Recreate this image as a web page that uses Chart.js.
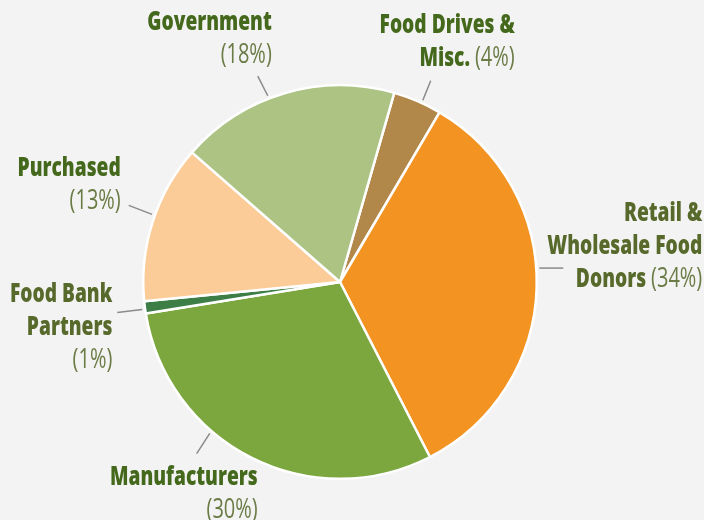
<!DOCTYPE html>
<html>
<head>
<meta charset="utf-8">
<script src="https://cdn.jsdelivr.net/npm/chart.js@4"></script>
<style>
  html, body { margin: 0; padding: 0; background: #f3f3f3; }
  #wrap { width: 704px; height: 520px; }
</style>
</head>
<body>
<div id="wrap"><canvas id="pieChart" width="704" height="520"></canvas></div>
<script>
// Data, clockwise from the slice just right of the top
const categories = ['Food Drives & Misc.', 'Retail & Wholesale Food Donors', 'Manufacturers',
                    'Food Bank Partners', 'Purchased', 'Government'];
const shares = [4, 34, 30, 1, 13, 18];
const sliceColors = ['#b2874a', '#f39322', '#7ba73e', '#3d7e47', '#fbcb98', '#acc384'];

// how each label is wrapped and where it sits relative to its leader line
const labelStyle = [
  { lines: ['Food Drives &', 'Misc.'], pctInline: true, off: 1.3, dir: -68, len: 21, dx: 84, dy: -48, color: '#45691c' },
  { lines: ['Retail &', 'Wholesale Food', 'Donors'], pctInline: true, off: -5.6, dir: 0, len: 24, dx: 139, dy: -47, color: '#586a2b' },
  { lines: ['Manufacturers'], pctInline: false, off: 13.9, dir: 123, len: 24, dx: 61, dy: 31, color: '#45691c' },
  { lines: ['Food Bank', 'Partners'], pctInline: false, off: -0.5, dir: 173, len: 25, dx: -5, dy: -11, color: '#586a2b' },
  { lines: ['Purchased'], pctInline: false, off: 2, dir: -159, len: 25, dx: -8, dy: -29, color: '#45691c' },
  { lines: ['Government'], pctInline: false, off: -4.8, dir: -117, len: 22, dx: 14, dy: -46, color: '#45691c' }
];

// no condensed face is available, so squeeze a normal one horizontally
const FONT = "'Open Sans', 'Noto Sans', sans-serif";
const LINE_H = 33;

function squeezedText(c, txt, xr, y, sx) {
  c.save();
  c.translate(xr, y);
  c.scale(sx, 1);
  c.fillText(txt, 0, 0);
  c.restore();
  return c.measureText(txt).width * sx;
}

const calloutPlugin = {
  id: 'callouts',
  afterDatasetsDraw(chart) {
    const c = chart.ctx;
    const arcs = chart.getDatasetMeta(0).data;
    const total = shares.reduce((a, b) => a + b, 0);
    arcs.forEach((arc, i) => {
      const st = labelStyle[i];
      const p = arc.getProps(['x', 'y', 'startAngle', 'endAngle', 'outerRadius'], true);
      const a = (p.startAngle + p.endAngle) / 2 + st.off * Math.PI / 180;
      const r0 = p.outerRadius + 3;
      const x0 = p.x + Math.cos(a) * r0;
      const y0 = p.y + Math.sin(a) * r0;
      const d = st.dir * Math.PI / 180;
      const x1 = x0 + Math.cos(d) * st.len;
      const y1 = y0 + Math.sin(d) * st.len;

      c.save();
      c.strokeStyle = '#8a8a8a';
      c.lineWidth = 1.5;
      c.beginPath();
      c.moveTo(x0, y0);
      c.lineTo(x1, y1);
      c.stroke();

      const right = x1 + st.dx;
      let base = y1 + st.dy;
      const pct = '(' + Math.round(shares[i] / total * 100) + '%)';
      const bold = '800 27px ' + FONT;
      const thin = '400 27px ' + FONT;
      const pctColor = '#6b7b46';
      c.textAlign = 'right';
      c.textBaseline = 'alphabetic';

      st.lines.forEach((ln, k) => {
        const last = k === st.lines.length - 1;
        let xr = right;
        if (last && st.pctInline) {
          c.font = thin;
          c.fillStyle = pctColor;
          xr -= squeezedText(c, pct, xr, base, 0.74) + 5;
        }
        c.font = bold;
        c.fillStyle = st.color;
        squeezedText(c, ln, xr, base, 0.71);
        base += LINE_H;
      });
      if (!st.pctInline) {
        c.font = thin;
        c.fillStyle = pctColor;
        squeezedText(c, pct, right, base, 0.74);
      }
      c.restore();
    });
  }
};

const chart = new Chart(document.getElementById('pieChart').getContext('2d'), {
  type: 'pie',
  data: {
    labels: categories,
    datasets: [{
      data: shares,
      backgroundColor: sliceColors,
      borderColor: '#ffffff',
      borderWidth: 2.5,
      hoverOffset: 0
    }]
  },
  options: {
    responsive: false,
    animation: false,
    rotation: 16,
    layout: { padding: { left: 142, right: 166, top: 84, bottom: 40 } },
    plugins: {
      legend: { display: false },
      tooltip: { enabled: false }
    }
  },
  plugins: [calloutPlugin]
});
</script>
</body>
</html>
